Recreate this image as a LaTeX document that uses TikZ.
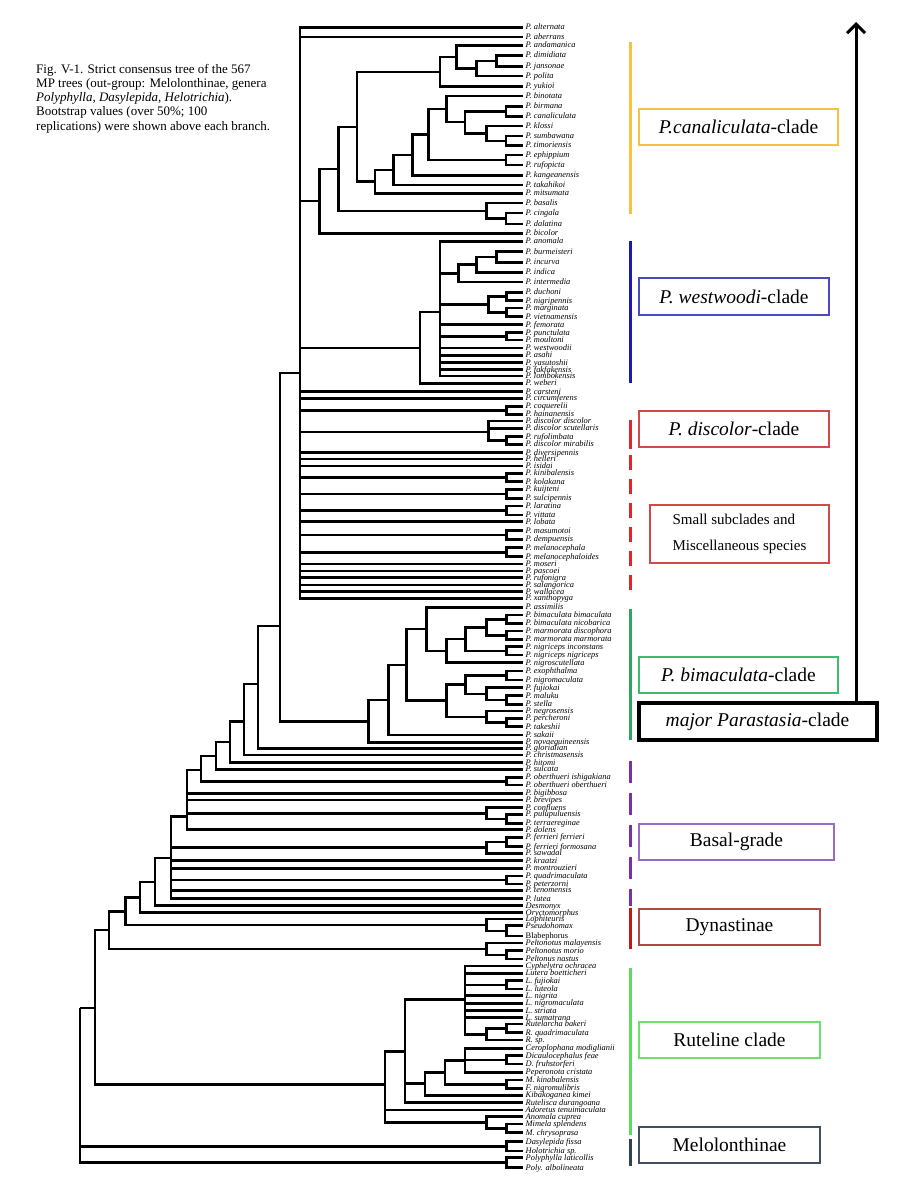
\documentclass[tikz,border=0pt]{standalone}
\usepackage{fontspec}
\setmainfont{Liberation Serif}
\usetikzlibrary{arrows.meta}
\definecolor{cyel}{HTML}{F5C242}
\definecolor{cblue}{HTML}{1A1AB0}
\definecolor{cblueb}{HTML}{4A4ABF}
\definecolor{cred}{HTML}{E0262B}
\definecolor{credb}{HTML}{D04848}
\definecolor{cgrn}{HTML}{2FA55F}
\definecolor{cgrnb}{HTML}{3DBB6E}
\definecolor{cpur}{HTML}{7A2FA8}
\definecolor{cpurb}{HTML}{9A6ACB}
\definecolor{cdred}{HTML}{C01818}
\definecolor{cdredb}{HTML}{B04848}
\definecolor{clgrn}{HTML}{5EDB5E}
\definecolor{clgrnb}{HTML}{6EE06E}
\definecolor{cslate}{HTML}{2E4250}
\definecolor{cslateb}{HTML}{405060}
\tikzset{
  tb/.style={line width=2.6pt, line join=miter},
  lab/.style={anchor=mid west, inner sep=0pt, font=\fontsize{8.4}{8.4}\selectfont\itshape},
  capt/.style={anchor=base west, inner sep=0pt, font=\fontsize{13}{14}\selectfont},
  clbox/.style={draw, line width=1.2pt, inner sep=0pt, font=\fontsize{19.5}{20}\selectfont},
  bar/.style={line width=3pt},
}
\newcommand\mkleaf[3]{\coordinate (#1) at (523,#2); \node[lab] (#1t) at (525.5,#2) {#3};}
\newcommand\brs[2]{\foreach \ch in {#2} {\draw[tb] (#1) |- (\ch);}}
\begin{document}
\begin{tikzpicture}[x=1pt,y=-1pt]
\useasboundingbox (0,0) rectangle (900,1200);
% caption
\node[capt] (cap1) at (36,73.3) {Fig. V-1. Strict consensus tree of the 567};
\node[capt] (cap2) at (36,87.5) {MP trees (out-group: Melolonthinae, genera};
\node[capt] (cap3) at (36,101.5) {\textit{Polyphylla, Dasylepida, Helotrichia}).};
\node[capt] (cap4) at (36,115.7) {Bootstrap values (over 50\%; 100};
\node[capt] (cap5) at (36,130) {replications) were shown above each branch.};
% leaves
\mkleaf{alt}{27.7}{P. alternata}
\mkleaf{abe}{37}{P. aberrans}
\mkleaf{anda}{45.5}{P. andamanica}
\mkleaf{dim}{55.5}{P. dimidiata}
\mkleaf{jan}{66.5}{P. jansonae}
\mkleaf{pol}{76}{P. polita}
\mkleaf{yuk}{86.5}{P. yukioi}
\mkleaf{bin}{96}{P. binotata}
\mkleaf{bir}{106.5}{P. birmana}
\mkleaf{can}{116.5}{P. canaliculata}
\mkleaf{klo}{126}{P. klossi}
\mkleaf{sum}{136}{P. sumbawana}
\mkleaf{tim}{145.5}{P. timoriensis}
\mkleaf{eph}{155}{P. ephippium}
\mkleaf{ruf}{165}{P. rufopicta}
\mkleaf{kan}{175.5}{P. kangeanensis}
\mkleaf{tak}{185}{P. takahikoi}
\mkleaf{mit}{193.5}{P. mitsumata}
\mkleaf{basa}{203}{P. basalis}
\mkleaf{cin}{213}{P. cingala}
\mkleaf{dal}{224}{P. dalatina}
\mkleaf{bic}{233.3}{P. bicolor}
\mkleaf{ano}{241.7}{P. anomala}
\mkleaf{bur}{251.7}{P. burmeisteri}
\mkleaf{inc}{262.3}{P. incurva}
\mkleaf{ind}{272.3}{P. indica}
\mkleaf{int}{282}{P. intermedia}
\mkleaf{duc}{292.3}{P. duchoni}
\mkleaf{nig}{300.7}{P. nigripennis}
\mkleaf{mar}{308}{P. marginata}
\mkleaf{vie}{316.7}{P. vietnamensis}
\mkleaf{fem}{324.7}{P. femorata}
\mkleaf{pun}{332.7}{P. punctulata}
\mkleaf{mou}{340}{P. moultoni}
\mkleaf{wes}{348}{P. westwoodii}
\mkleaf{asa}{355.3}{P. asahi}
\mkleaf{yas}{362.7}{P. yasutoshii}
\mkleaf{fak}{369.7}{P. fakfakensis}
\mkleaf{lom}{376}{P. lombokensis}
\mkleaf{web}{383.3}{P. weberi}
\mkleaf{car}{391.7}{P. carsteni}
\mkleaf{cir}{398.3}{P. circumferens}
\mkleaf{coq}{406.5}{P. coquerelii}
\mkleaf{hai}{414.3}{P. hainanensis}
\mkleaf{ddi}{421}{P. discolor discolor}
\mkleaf{dsc}{428.3}{P. discolor scutellaris}
\mkleaf{rfl}{436.7}{P. rufolimbata}
\mkleaf{dmi}{444.3}{P. discolor mirabilis}
\mkleaf{div}{452.7}{P. diversipennis}
\mkleaf{hel}{459}{P. helleri}
\mkleaf{isi}{466}{P. isidai}
\mkleaf{kin}{473.3}{P. kinibalensis}
\mkleaf{kol}{481.7}{P. kolakana}
\mkleaf{kui}{489.3}{P. kuijteni}
\mkleaf{sul}{498.3}{P. sulcipennis}
\mkleaf{lar}{506}{P. laratina}
\mkleaf{vit}{515}{P. vittata}
\mkleaf{lob}{521.7}{P. lobata}
\mkleaf{mas}{530.7}{P. masumotoi}
\mkleaf{dem}{539.3}{P. dempuensis}
\mkleaf{mel}{547.7}{P. melanocephala}
\mkleaf{meo}{556.7}{P. melanocephaloides}
\mkleaf{mos}{564}{P. moseri}
\mkleaf{pas}{571}{P. pascoei}
\mkleaf{rfn}{577.7}{P. rufonigra}
\mkleaf{sal}{585}{P. salangorica}
\mkleaf{wal}{591.7}{P. wallacea}
\mkleaf{xan}{598.3}{P. xanthopyga}
\mkleaf{ass}{607.3}{P. assimilis}
\mkleaf{bbi}{615}{P. bimaculata bimaculata}
\mkleaf{bni}{623.3}{P. bimaculata nicobarica}
\mkleaf{mdi}{631}{P. marmorata discophora}
\mkleaf{mma}{639.3}{P. marmorata marmorata}
\mkleaf{nin}{646.7}{P. nigriceps inconstans}
\mkleaf{nni}{655}{P. nigriceps nigriceps}
\mkleaf{nsc}{662.7}{P. nigroscutellata}
\mkleaf{exo}{671}{P. exophthalma}
\mkleaf{nma}{680}{P. nigromaculata}
\mkleaf{fuj}{687.7}{P. fujiokai}
\mkleaf{mal}{695.7}{P. maluku}
\mkleaf{ste}{704.3}{P. stella}
\mkleaf{neg}{711}{P. negrosensis}
\mkleaf{per}{718.3}{P. percheroni}
\mkleaf{tks}{726.7}{P. takeshii}
\mkleaf{sak}{735}{P. sakaii}
\mkleaf{nov}{742.3}{P. novaeguineensis}
\mkleaf{glo}{748.5}{P. glorialian}
\mkleaf{chr}{755}{P. christmasensis}
\mkleaf{hit}{762.7}{P. hitomi}
\mkleaf{slc}{769.3}{P. sulcata}
\mkleaf{obi}{777.3}{P. oberthueri ishigakiana}
\mkleaf{obo}{785}{P. oberthueri oberthueri}
\mkleaf{big}{793.3}{P. bigibbosa}
\mkleaf{bre}{800}{P. brevipes}
\mkleaf{con}{807.7}{P. confluens}
\mkleaf{pul}{814.3}{P. pulupuluensis}
\mkleaf{ter}{823.3}{P. terraereginae}
\mkleaf{dol}{829.7}{P. dolens}
\mkleaf{ffe}{837.3}{P. ferrieri ferrieri}
\mkleaf{ffo}{846.7}{P. ferrieri formosana}
\mkleaf{saw}{853.3}{P. sawadai}
\mkleaf{kra}{860.7}{P. kraatzi}
\mkleaf{mon}{868.3}{P. montrouzieri}
\mkleaf{qua}{876}{P. quadrimaculata}
\mkleaf{pet}{884}{P. peterzorni}
\mkleaf{ten}{890.5}{P. tenomensis}
\mkleaf{lut}{898.7}{P. lutea}
\mkleaf{Des}{905.7}{Desmonyx}
\mkleaf{Ory}{912.7}{Oryctomorphus}
\mkleaf{Lop}{919}{Lophiteuris}
\mkleaf{Pse}{925.7}{Pseudohomax}
\mkleaf{Bla}{936}{\upshape Blabephorus}
\mkleaf{Pma}{943}{Peltonotus malayensis}
\mkleaf{Pmo}{950.7}{Peltonotus morio}
\mkleaf{Pna}{959}{Peltonus nastus}
\mkleaf{Cyp}{966}{Cyphelytra ochracea}
\mkleaf{Lbo}{973.3}{Lutera boetticheri}
\mkleaf{Lfu}{980.7}{L. fujiokai}
\mkleaf{Llu}{989}{L. luteola}
\mkleaf{Lni}{995.7}{L. nigrita}
\mkleaf{Lnm}{1003.3}{L. nigromaculata}
\mkleaf{Lst}{1010.7}{L. striata}
\mkleaf{Lsu}{1017.7}{L. sumatrana}
\mkleaf{Rba}{1024}{Rutelarcha bakeri}
\mkleaf{Rqu}{1032.7}{R. quadrimaculata}
\mkleaf{Rsp}{1040}{R. sp.}
\mkleaf{Cer}{1048.3}{Ceroplophana modiglianii}
\mkleaf{Dfe}{1055.7}{Dicaulocephalus feae}
\mkleaf{Dfr}{1064}{D. fruhstorferi}
\mkleaf{Pep}{1072.3}{Peperonota cristata}
\mkleaf{Mki}{1080}{M. kinabalensis}
\mkleaf{Fni}{1088.3}{F. nigromulibris}
\mkleaf{Kib}{1095.3}{Kibakoganea kimei}
\mkleaf{Rut}{1102.7}{Rutelisca durangoana}
\mkleaf{Ado}{1110}{Adoretus tenuimaculata}
\mkleaf{Acu}{1116.7}{Anomala cuprea}
\mkleaf{Msp}{1124}{Mimela splendens}
\mkleaf{Mch}{1132.7}{M. chrysoprasa}
\mkleaf{Das}{1141.7}{Dasylepida fissa}
\mkleaf{Hol}{1151}{Holotrichia sp.}
\mkleaf{Pla}{1157.7}{Polyphylla laticollis}
\mkleaf{Pal}{1167.7}{Poly. albolineata}
% internal nodes: canaliculata clade
\coordinate (cdj) at (496.7,61);
\coordinate (cdjp) at (476.7,68.5);
\coordinate (cadp) at (456.7,57);
\coordinate (cay) at (440,72);
\coordinate (cbc) at (506,111.5);
\coordinate (cst) at (506,141);
\coordinate (ckst) at (486.7,133.5);
\coordinate (cbk) at (465,122);
\coordinate (cbb) at (446.7,109);
\coordinate (cep) at (506,160);
\coordinate (cber) at (428.3,134.5);
\coordinate (cbk2) at (412.7,155);
\coordinate (ct) at (393.3,170);
\coordinate (cm) at (375,181.5);
\coordinate (ctop) at (357,127);
\coordinate (ccd) at (506,218.5);
\coordinate (cbcd) at (486.7,211);
\coordinate (cmain) at (338.3,169);
\coordinate (cclade) at (319.3,201);
% westwoodi clade
\coordinate (wbi) at (496.7,257);
\coordinate (wbii) at (476.7,264.6);
\coordinate (wint) at (458.3,273.3);
\coordinate (wdn) at (506.7,296.5);
\coordinate (wmv) at (506.7,312.3);
\coordinate (wdm) at (488.3,304.4);
\coordinate (wpm) at (506.7,336.3);
\coordinate (wpoly) at (440,312);
\coordinate (wclade) at (420,348);
% polytomy
\coordinate (pch) at (506.7,410.4);
\coordinate (prm) at (506.7,440.5);
\coordinate (pdisc) at (488.3,432);
\coordinate (pkk) at (506.7,477.5);
\coordinate (pks) at (506.7,493.8);
\coordinate (plv) at (506.7,510.5);
\coordinate (pmd) at (506.7,535);
\coordinate (pmm) at (506.7,552.2);
\coordinate (poly) at (300,373);
% bimaculata
\coordinate (bbb) at (506.7,619.2);
\coordinate (bmm) at (506.7,635.2);
\coordinate (bnn) at (506.7,650.9);
\coordinate (bf4) at (486.7,627.2);
\coordinate (bf6) at (465.7,639);
\coordinate (bf7) at (446.7,650.9);
\coordinate (bass) at (426.7,629.1);
\coordinate (ben) at (506.7,675.5);
\coordinate (bms) at (506.7,700);
\coordinate (bfms) at (486.7,693.9);
\coordinate (befm) at (465.7,684.7);
\coordinate (bpt) at (506.7,722.5);
\coordinate (bnpt) at (486.7,716.8);
\coordinate (blow) at (446.7,700.7);
\coordinate (bcore) at (406.7,664.9);
\coordinate (bsak) at (388.3,700);
\coordinate (bclade) at (368.3,721.2);
% basal grade
\coordinate (m280) at (280,626);
\coordinate (m258) at (258,684);
\coordinate (m244) at (244,721.7);
\coordinate (m230) at (230,742);
\coordinate (m216) at (216,756);
\coordinate (opair) at (506.7,781.2);
\coordinate (m201) at (201,770);
\coordinate (qpt) at (506.7,818.8);
\coordinate (qcon) at (486.7,813.2);
\coordinate (m187) at (187,816.7);
\coordinate (fpair) at (506.7,842);
\coordinate (fgrp) at (486.7,847.7);
\coordinate (qpair) at (506.7,880);
\coordinate (m171) at (171,858);
\coordinate (m155) at (155,881.8);
\coordinate (m140) at (140,897.2);
\coordinate (dpb) at (506.7,931);
\coordinate (dlop) at (486.7,925.1);
\coordinate (m126) at (125.7,911.2);
\coordinate (dmn) at (506.7,954.8);
\coordinate (dpel) at (486.7,948.9);
\coordinate (m109) at (109,929.9);
% ruteline
\coordinate (rlf) at (506.7,984.8);
\coordinate (rrq) at (506.7,1028.3);
\coordinate (rrg) at (486.7,1034.2);
\coordinate (rlut) at (465,999.6);
\coordinate (rdd) at (506.7,1059.8);
\coordinate (rcer) at (465,1060.3);
\coordinate (rmf) at (506.7,1084.2);
\coordinate (r445) at (445,1072.2);
\coordinate (r425) at (425,1083.7);
\coordinate (r405) at (405,1051.2);
\coordinate (rmm) at (506.7,1128.3);
\coordinate (ran) at (486.7,1122.5);
\coordinate (rroot) at (385,1084.7);
\coordinate (m95) at (95,1008);
\coordinate (odh) at (506.7,1146.3);
\coordinate (opp) at (506.7,1162.7);
\coordinate (root) at (80,1008);
% branches
\brs{cdj}{dim,jan}
\brs{cdjp}{cdj,pol}
\brs{cadp}{anda,cdjp}
\brs{cay}{cadp,yuk}
\brs{cbc}{bir,can}
\brs{cst}{sum,tim}
\brs{ckst}{klo,cst}
\brs{cbk}{cbc,ckst}
\brs{cbb}{bin,cbk}
\brs{cep}{eph,ruf}
\brs{cber}{cbb,cep}
\brs{cbk2}{cber,kan}
\brs{ct}{cbk2,tak}
\brs{cm}{ct,mit}
\brs{ctop}{cay,cm}
\brs{ccd}{cin,dal}
\brs{cbcd}{basa,ccd}
\brs{cmain}{ctop,cbcd}
\brs{cclade}{cmain,bic}
\brs{wbi}{bur,inc}
\brs{wbii}{wbi,ind}
\brs{wint}{wbii,int}
\brs{wdn}{duc,nig}
\brs{wmv}{mar,vie}
\brs{wdm}{wdn,wmv}
\brs{wpm}{pun,mou}
\brs{wpoly}{ano,wint,wdm,fem,wpm,wes,asa,yas,fak,lom}
\brs{wclade}{wpoly,web}
\brs{pch}{coq,hai}
\brs{prm}{rfl,dmi}
\brs{pdisc}{ddi,dsc,prm}
\brs{pkk}{kin,kol}
\brs{pks}{kui,sul}
\brs{plv}{lar,vit}
\brs{pmd}{mas,dem}
\brs{pmm}{mel,meo}
\brs{poly}{alt,abe,cclade,wclade,car,cir,pch,pdisc,div,hel,isi,pkk,pks,plv,lob,pmd,pmm,mos,pas,rfn,sal,wal,xan}
\brs{bbb}{bbi,bni}
\brs{bmm}{mdi,mma}
\brs{bnn}{nin,nni}
\brs{bf4}{bbb,bmm}
\brs{bf6}{bf4,bnn}
\brs{bf7}{bf6,nsc}
\brs{bass}{ass,bf7}
\brs{ben}{exo,nma}
\brs{bms}{mal,ste}
\brs{bfms}{fuj,bms}
\brs{befm}{ben,bfms}
\brs{bpt}{per,tks}
\brs{bnpt}{neg,bpt}
\brs{blow}{befm,bnpt}
\brs{bcore}{bass,blow}
\brs{bsak}{bcore,sak}
\brs{bclade}{bsak,nov}
\brs{m280}{poly,bclade}
\brs{m258}{m280,glo}
\brs{m244}{m258,chr}
\brs{m230}{m244,hit}
\brs{m216}{m230,slc}
\brs{opair}{obi,obo}
\brs{m201}{m216,opair}
\brs{qpt}{pul,ter}
\brs{qcon}{con,qpt}
\brs{m187}{m201,big,bre,qcon,dol}
\brs{fpair}{ffe,ffo}
\brs{fgrp}{fpair,saw}
\brs{qpair}{qua,pet}
\brs{m171}{m187,fgrp,kra,mon,qpair,ten,lut}
\brs{m155}{m171,Des}
\brs{m140}{m155,Ory}
\brs{dpb}{Pse,Bla}
\brs{dlop}{Lop,dpb}
\brs{m126}{m140,dlop}
\brs{dmn}{Pmo,Pna}
\brs{dpel}{Pma,dmn}
\brs{m109}{m126,dpel}
\brs{rlf}{Lfu,Llu}
\brs{rrq}{Rba,Rqu}
\brs{rrg}{rrq,Rsp}
\brs{rlut}{Cyp,Lbo,rlf,Lni,Lnm,Lst,Lsu,rrg}
\brs{rdd}{Dfe,Dfr}
\brs{rcer}{Cer,rdd,Pep}
\brs{rmf}{Mki,Fni}
\brs{r445}{rcer,rmf}
\brs{r425}{r445,Kib}
\brs{r405}{rlut,r425,Rut}
\brs{rmm}{Msp,Mch}
\brs{ran}{Acu,rmm}
\brs{rroot}{r405,Ado,ran}
\brs{m95}{m109,rroot}
\brs{odh}{Das,Hol}
\brs{opp}{Pla,Pal}
\brs{root}{m95,odh,opp}
% coloured bars
\draw[bar,cyel] (630,42) -- (630,214);
\draw[bar,cblue] (630,241) -- (630,383);
\draw[bar,cred] (630,420) -- (630,449);
\draw[bar,cred,dash pattern=on 15pt off 9pt] (630,455) -- (630,590);
\draw[bar,cgrn] (630,609) -- (630,740);
\draw[bar,cpur,dash pattern=on 22pt off 10pt] (630,761) -- (630,906);
\draw[bar,cdred] (630,908) -- (630,949);
\draw[bar,clgrn] (630,968) -- (630,1135);
\draw[bar,cslate] (630,1139) -- (630,1166);
% boxes
\node[clbox,draw=cyel,minimum width=199pt,minimum height=36pt] (bxcan) at (738.5,127) {\textit{P.canaliculata}-clade};
\node[clbox,draw=cblueb,minimum width=190pt,minimum height=37pt] (bxwes) at (734,296.5) {\textit{P. westwoodi}-clade};
\node[clbox,draw=credb,minimum width=190pt,minimum height=36pt] (bxdis) at (734,429) {\textit{P. discolor}-clade};
\node[clbox,draw=credb,minimum width=179pt,minimum height=58pt,align=left,font=\fontsize{15}{26.5}\selectfont] (bxsma) at (739.5,534) {Small subclades and\\Miscellaneous species};
\node[clbox,draw=cgrnb,minimum width=199pt,minimum height=36pt] (bxbim) at (738.5,675) {\textit{P. bimaculata}-clade};
\node[clbox,draw=black,line width=4pt,minimum width=238pt,minimum height=37pt] (bxmaj) at (757.5,721.5) {\textit{major Parastasia}-clade};
\node[clbox,draw=cpurb,minimum width=195pt,minimum height=36pt] (bxbas) at (736.5,842) {Basal-grade};
\node[clbox,draw=cdredb,minimum width=181pt,minimum height=36pt] (bxdyn) at (729.5,927) {Dynastinae};
\node[clbox,draw=clgrnb,minimum width=181pt,minimum height=36pt] (bxrut) at (729.5,1040) {Ruteline clade};
\node[clbox,draw=cslateb,minimum width=181pt,minimum height=36pt] (bxmel) at (729.5,1145) {Melolonthinae};
% arrow
\coordinate (arrtip) at (856,22);
\draw[line width=3pt,-{Straight Barb[length=9pt,width=18pt]}] (bxmaj.north -| arrtip) -- (arrtip);
\end{tikzpicture}
\end{document}
